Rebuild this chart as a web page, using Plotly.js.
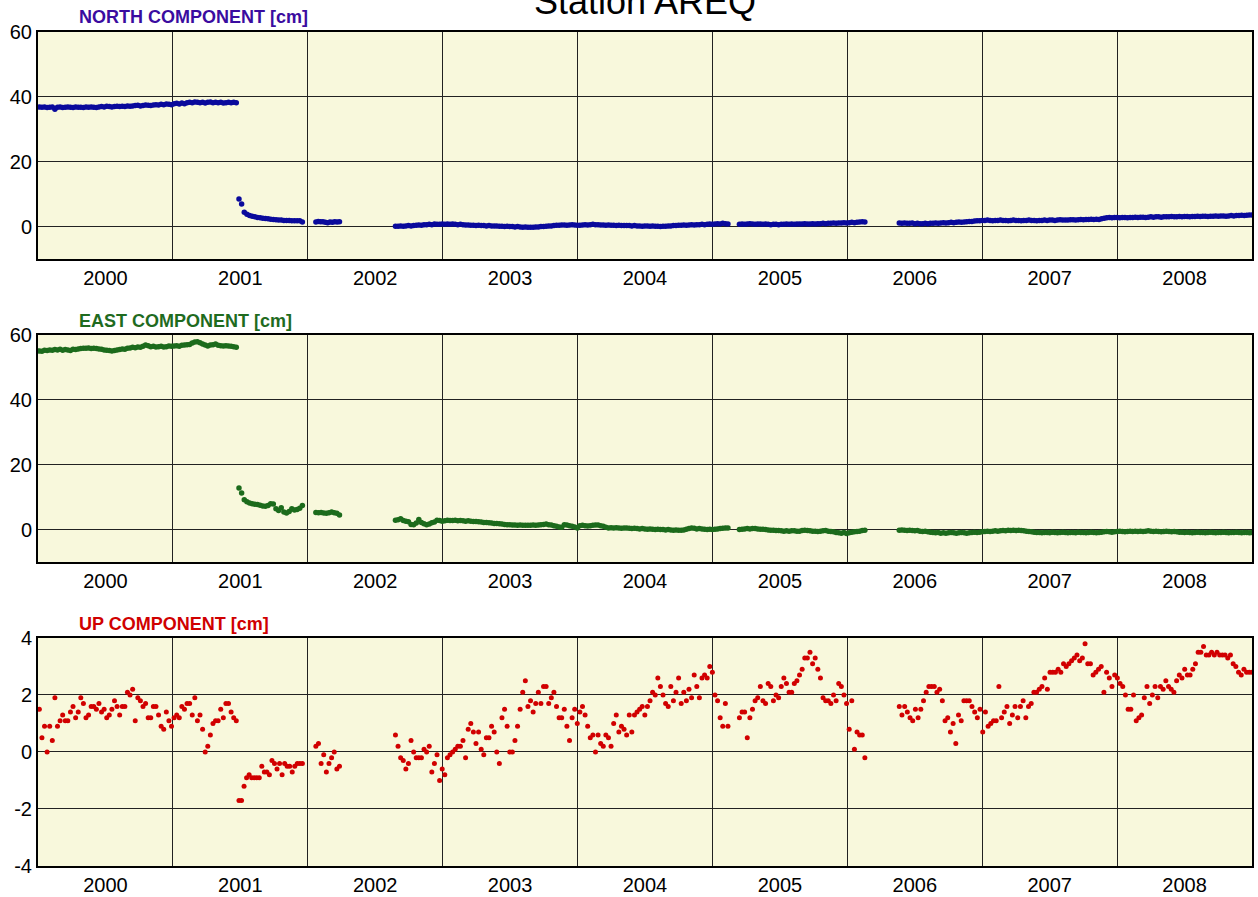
<!DOCTYPE html>
<html>
<head>
<meta charset="utf-8">
<script src="https://cdn.plot.ly/plotly-3.0.1.min.js"></script>
<style>html,body{margin:0;padding:0;background:#fff;}#chart{width:1258px;height:897px;}</style>
</head>
<body>
<div id="chart"></div>
<script>
// ---- DATA ----
const stationName = "Station AREQ";
const yearLabels = ["2000","2001","2002","2003","2004","2005","2006","2007","2008"];
const yearCenters = [2000.5,2001.5,2002.5,2003.5,2004.5,2005.5,2006.5,2007.5,2008.5];
const yearBoundaries = [2001,2002,2003,2004,2005,2006,2007,2008];
const neTickVals = [0,20,40,60];
const neTickText = ["0","20","40","60"];
const upTickVals = [-4,-2,0,2,4];
const upTickText = ["-4","-2","0","2","4"];

// data segments (decimal year start / end of weekly solutions)
const segStart = [2000.01, 2001.49, 2002.06, 2002.65, 2005.20, 2006.385];
const segEnd   = [2001.47, 2001.96, 2002.235, 2005.115, 2006.13, 2009.0];

// NORTH component [cm], one array per segment
const northA = [36.9,36.8,36.9,36.7,36.8,36.9,36.2,36.8,36.9,36.7,36.8,36.9,36.8,36.7,36.9,36.8,36.8,36.7,36.9,36.8,36.9,36.8,36.7,36.9,
37.0,36.9,37.1,37.0,36.9,37.0,37.1,37.0,37.1,37.0,37.2,37.1,37.2,37.3,37.4,37.2,37.3,37.5,37.4,37.3,37.5,
37.6,37.5,37.7,37.6,37.8,37.7,37.6,37.9,38.0,37.8,38.1,37.9,38.2,
38.3,38.2,38.4,38.3,38.2,38.3,38.1,38.3,38.4,38.2,38.3,38.2,38.3,38.1,38.2,38.3,38.2,38.3,38.2];
const northB = [8.5,7.0,4.4,3.8,3.4,3.2,3.0,2.8,2.7,2.6,2.5,2.4,2.3,2.2,2.1,2.0,2.0,1.9,1.9,1.9,1.8,1.8,1.8,1.8,1.4];
const northC = [1.4,1.6,1.5,1.5,1.3,1.2,1.4,1.3,1.5,1.4,1.5];
const northD = [0.1,0.1,0.2,0.1,0.2,0.3,0.2, 0.3,0.4,0.5,0.4,0.6,0.6, 0.7,0.6,0.8,0.7,0.7,0.8,0.7, 0.8,0.7,0.8,0.7,0.6,0.7,
0.6,0.5,0.5,0.4,0.4,0.3,0.4, 0.3,0.3,0.2,0.3,0.2,0.2, 0.2,0.1,0.1,0.0,0.1,0.0, 0.0,-0.1,0.0,-0.1,-0.2,-0.1,-0.2,-0.2,
-0.2,-0.1,-0.1,0.0,0.0, 0.1,0.2,0.2,0.3,0.4,0.4,0.5, 0.5,0.4,0.5,0.6,0.5,0.4, 0.4,0.5,0.6,0.5,0.6,0.7,0.6,
0.6,0.5,0.5,0.4,0.5,0.4, 0.4,0.3,0.4,0.3,0.3,0.3, 0.3,0.2,0.3,0.2,0.2,0.1,0.2, 0.2,0.1,0.2,0.1,0.1,0.0,
0.1,0.1,0.2,0.2,0.3,0.3,0.4, 0.4,0.5,0.4,0.5,0.6,0.5, 0.6,0.6,0.7,0.6,0.7,0.8,0.7, 0.8,0.9,0.8,1.0,0.9,0.8];
const northE = [0.7,0.8,0.7,0.8,0.9,0.8,0.7,0.8,0.8,0.7,0.8,0.7,0.6,0.7,0.7,0.6,0.7,0.7,0.8,0.7,0.8,0.7,0.8,0.8,0.8,0.9,0.8,0.8,0.9,0.8,
0.9,0.9,1.0,0.9,1.0,1.0,1.1,1.0,1.1,1.1,1.2,1.1,1.2,1.3,1.2,1.3,1.4,1.5,1.4];
const northF = [1.1,1.0,1.1,1.0,1.0,1.1,0.9,1.0,0.9,0.9,1.0, 0.9,1.0,1.0,1.1,1.0,1.1,1.2,1.1,1.2,1.3,1.2,1.3,1.4,1.3,1.4,
1.5,1.6,1.6,1.7,1.8,1.8, 1.9,1.9,2.0,1.9,1.8,1.9,1.9,2.0,1.9,1.9,1.8,1.9,2.0,1.9,1.9,1.8,1.9,1.9,2.0,1.9,
1.9,1.8,1.9,1.9,2.0,1.9,2.0,2.0,1.9,2.0,2.1,2.0,2.0, 2.0,2.1,2.1,2.0,2.1,2.2,2.1,2.2,2.2,2.3,2.2,2.3,
2.2,2.4,2.6,2.7,2.8,2.7,2.8,2.8,2.7,2.8,2.8,2.7,2.8, 2.8,2.9,2.8,2.9,2.9,2.8,2.9,3.0,2.9,3.0,3.0,2.9,3.0,
3.0,3.0,3.1,3.0,3.0,3.1,3.0,3.1,3.1,3.0,3.1,3.1,3.2, 3.1,3.2,3.2,3.1,3.2,3.2,3.3,3.2,3.3,3.3,3.2,3.3,3.4,
3.3,3.4,3.4,3.5,3.4,3.5,3.6,3.6];

// EAST component [cm]
const eastA = [55.1,55.0,55.3,55.2,55.4,55.3,55.5,55.4,55.6,55.3,55.5, 55.4,55.2,55.6,55.5,55.7,55.8,55.9, 55.9,56.0,55.8,55.9,55.8,55.7,
55.6,55.4,55.3,55.2,55.1,55.2,55.4, 55.5,55.7,55.6,55.9,56.0,56.2, 56.1,56.3,56.2,56.5, 56.9,56.7,56.4,56.5,56.3,
56.4,56.5,56.3,56.4,56.6,56.5, 56.6,56.7,56.5,56.8,56.9,57.0, 57.1,57.5,57.8,57.9,57.6,57.2,56.9,
56.6,56.9,57.0,57.2,56.8,56.7, 56.6,56.7,56.6,56.5,56.4,56.2];
const eastB = [12.8,11.3,9.2,8.6,8.2,8.0,7.8,7.7,7.5,7.3,7.2,7.4,8.0,7.9,6.4,5.9,6.7,5.4,5.1,5.6,6.4,6.0,6.2,6.6,7.4];
const eastC = [5.3,5.2,5.3,5.1,5.0,5.2,5.4,5.2,5.0,4.5];
const eastD = [2.9,3.0,3.3,2.8,2.6, 2.4,1.6,1.5,2.0, 3.1,2.2,1.8, 1.5,1.7,2.1,2.3, 2.9,2.8,2.6,2.7,2.9,2.8,
2.8,2.9,2.7,2.8,2.7,2.6,2.7,2.6,2.5, 2.5,2.4,2.3,2.2,2.2,2.1,2.0,1.9,1.9, 1.8,1.7,1.6,1.5,1.5,1.4,1.4,1.3,1.4,1.3,1.3,
1.3,1.3,1.4,1.3,1.4,1.5,1.6, 1.7,1.5,1.4,1.2,1.0,0.8, 0.7,1.5,1.4,1.2,1.0,0.8, 0.5,1.2,1.3,1.2,1.1,1.2,1.3,1.4,
1.4,1.2,1.0,0.7,0.5,0.6,0.5,0.6,0.5,0.4,0.5, 0.5,0.4,0.3,0.4,0.3,0.2,0.3,0.2,0.1,0.2,0.1,0.0,0.1,
0.0,0.0,-0.1,0.0,-0.1,-0.2,-0.1,-0.2,-0.2,-0.1,0.1,0.3, 0.5,0.4,0.2,0.3,0.2,0.1,0.0,0.1, 0.0,0.1,0.2,0.3,0.4,0.5,0.5];
const eastE = [0.0,0.1,0.2,0.3,0.2,0.3,0.3,0.2,0.1,0.1,0.0,-0.1,-0.2,-0.2,-0.3,-0.3,-0.4,-0.5,-0.4,-0.5,-0.4,-0.4,-0.5,-0.5,
-0.3,-0.2,-0.3,-0.4,-0.5,-0.5,-0.6,-0.5,-0.4,-0.3,-0.5,-0.6,-0.7,-0.9,-1.0,-1.1,-0.9,-1.2,-1.0,-0.8,-0.7,-0.6,-0.5,-0.3,-0.2];
const eastF = [-0.2,-0.1,-0.2,-0.3,-0.2,-0.3,-0.4,-0.3,-0.5,-0.6,-0.5,-0.7,-0.8,
-0.9,-1.0,-0.9,-1.1,-1.0,-1.1,-1.0,-0.9,-1.0,-1.1,-1.0,-0.9,-1.0,-1.1,-1.0,-0.9,-0.8,-0.9,-0.8,-0.7,-0.6,
-0.5,-0.6,-0.5,-0.4,-0.5,-0.4,-0.3,-0.4,-0.2,-0.3,-0.2,-0.3,-0.2,-0.3,-0.4,-0.5,-0.6,-0.7,-0.8,-0.9,
-0.9,-1.0,-0.9,-0.9,-1.0,-0.8,-0.9,-1.0,-0.9,-0.8,-0.9,-1.0,-0.9,-0.9,-1.0,-0.8,-0.9,-0.9,-1.0,-0.9,-0.8,-0.9,-1.0,-0.9,-0.8,
-0.7,-0.6,-0.7,-0.8,-0.7,-0.6,-0.5,-0.6,-0.7,-0.6,-0.5,-0.6,-0.5,-0.6,
-0.5,-0.6,-0.5,-0.4,-0.5,-0.6,-0.5,-0.6,-0.7,-0.6,-0.5,-0.6,-0.7,-0.6,-0.7,-0.8,-0.8,
-0.9,-0.8,-0.9,-1.0,-0.9,-0.8,-0.9,-0.9,-1.0,-0.9,-0.8,-0.9,-1.0,-0.9,-0.9,-0.8,-0.9,-1.0,-0.9,-0.9,-0.8,-0.9,-1.0,-0.9,-0.9,-1.0,-0.9];

// UP component [cm]
const upA = [1.5,0.5,0.9,0.0,0.9,0.4,1.9,0.9,1.1,1.3,1.1,1.1,1.4,1.6,1.2,1.4,1.9,1.7,1.2,1.3,1.6,1.6,1.5,1.7,1.4,
1.5,1.2,1.3,1.5,1.8,1.6,1.3,1.6,1.6,2.1,2.0,2.2,1.1,1.9,1.8,1.6,1.7,1.2,1.2,1.6,1.6,1.3,0.9,0.8,1.4,
1.1,0.9,1.2,1.3,1.2,1.6,1.5,1.7,1.7,1.3,1.9,1.1,1.3,0.8,0.0,0.2,0.6,1.0,1.1,1.1,1.5,1.2,1.7,1.7,1.4,1.2,1.1];
const upB = [-1.7,-1.7,-1.2,-0.9,-0.8,-0.9,-0.9,-0.9,-0.9,-0.5,-0.7,-0.7,-0.8,-0.3,-0.4,-0.6,-0.4,-0.8,-0.4,-0.5,-0.5,-0.7,-0.5,-0.4,-0.4,-0.4];
const upC = [0.2,0.3,-0.4,-0.1,-0.7,-0.4,-0.2,0.0,-0.6,-0.5];
const upD = [0.6,0.2,-0.2,-0.3,-0.6,-0.4,0.4,0.0,-0.2,-0.2, -0.2,0.1,0.0,0.2,-0.7,-0.4,-0.1,-1.0,-0.6,-0.8,
-0.2,-0.1,0.0,0.1,0.2,0.2,0.4,-0.2,0.8,1.0, 0.7,0.3,0.7,0.1,-0.1,0.5,0.5,0.9,0.7,0.0,
-0.4,1.2,1.5,0.9,0.0,0.0,0.4,0.9,1.5,2.1, 2.5,1.6,1.8,1.4,1.7,2.1,1.7,2.3,2.3,1.7,
1.9,2.1,1.6,1.2,1.2,1.5,0.9,0.4,1.2,1.5, 1.0,1.4,1.6,1.3,0.9,0.5,0.6,0.0,0.6,0.3,
0.2,0.6,0.5,0.2,1.0,1.3,0.7,0.9,0.8,0.6, 1.3,0.7,1.3,1.4,1.5,1.6,1.3,1.6,1.8,2.1,
2.0,2.6,2.3,2.0,1.7,1.6,2.3,1.8,2.1,2.6, 1.7,2.1,1.8,2.2,1.9,2.7,2.3,1.9,2.6,2.7,
2.6,3.0,2.8,2.0,1.8,1.2,0.9,1.7,0.9];
const upE = [1.2,1.4,1.4,0.5,1.2,1.5,1.8,1.9,2.3,1.8,1.7,2.4,2.3,1.8,2.0,1.9,2.3,2.6,2.4,2.1,2.1,2.4,2.5,2.7,
2.9,3.3,3.3,3.5,3.1,3.3,2.9,2.6,1.9,1.8,1.8,1.7,2.0,1.8,2.4,2.3,2.0,1.7,0.8,1.8,0.1,0.7,0.6,0.6,-0.2];
const upF = [1.6,1.3,1.6,1.4,1.2,1.1,1.5,1.2,1.5,1.8,2.1,2.3,2.3,2.3,2.1,2.2,1.8,1.1,1.2,0.7,1.0,0.3,1.3,1.1,1.8,
1.8,1.8,1.6,1.4,1.2,1.5,0.7,1.4,0.9,1.0,1.1,1.1,2.3,1.2,1.4,1.6,1.0,1.3,1.6,1.2,1.6,1.8,1.2,1.6,1.7,
2.1,2.1,2.2,2.3,2.6,2.2,2.8,2.8,2.8,2.9,2.8,3.1,3.0,3.1,3.2,3.3,3.4,3.2,3.3,3.8,3.1,3.1,2.7,2.8,2.9,
3.0,2.1,2.8,2.6,2.3,2.7,2.6,2.4,2.3,2.0,1.5,1.5,2.0,1.1,1.2,1.3,1.9,2.3,1.7,2.0,2.3,1.9,2.3,2.2,2.5,
2.3,2.2,2.1,2.5,2.7,2.6,2.9,2.7,2.7,2.9,3.1,3.5,3.5,3.7,3.4,3.4,3.5,3.4,3.5,3.4,3.4,3.4,3.3,3.4,3.1,
3.0,2.8,2.7,2.9,2.8,2.8,2.8];

// ---- BUILD ----
function build(segs){
  const xs=[], ys=[];
  segs.forEach((vals,k)=>{
    const n=vals.length;
    for(let i=0;i<n;i++){
      xs.push(segStart[k]+(segEnd[k]-segStart[k])*(n>1?i/(n-1):0));
      ys.push(vals[i]);
    }
  });
  return {x:xs,y:ys};
}
const N = build([northA,northB,northC,northD,northE,northF]);
const E = build([eastA,eastB,eastC,eastD,eastE,eastF]);
const U = build([upA,upB,upC,upD,upE,upF]);

const FONT = 'Liberation Sans, Arial, Helvetica, sans-serif';
const traces = [
  {x:N.x,y:N.y,type:'scatter',mode:'markers',xaxis:'x',yaxis:'y',marker:{color:'#0A0A9C',size:5.5},hoverinfo:'x+y'},
  {x:E.x,y:E.y,type:'scatter',mode:'markers',xaxis:'x2',yaxis:'y2',marker:{color:'#1C6B1C',size:5.5},hoverinfo:'x+y'},
  {x:U.x,y:U.y,type:'scatter',mode:'markers',xaxis:'x3',yaxis:'y3',marker:{color:'#D10000',size:5},hoverinfo:'x+y'}
];

function xax(anchor){
  return {anchor:anchor,range:[2000,2009],tickmode:'array',tickvals:yearCenters,ticktext:yearLabels,
    ticks:'',showgrid:false,zeroline:false,showline:true,mirror:true,linewidth:2,linecolor:'#000',
    tickfont:{family:FONT,size:20,color:'#000'},ticklabelstandoff:0,
    minor:{tickmode:'array',tickvals:yearBoundaries,showgrid:true,gridcolor:'#222',gridwidth:1,ticks:''}};
}
function yax(anchor,domain,range,vals,text){
  return {anchor:anchor,domain:domain,range:range,tickmode:'array',tickvals:vals,ticktext:text,ticks:'',
    showgrid:true,gridcolor:'#222',gridwidth:1,zeroline:false,showline:true,mirror:true,linewidth:2,linecolor:'#000',
    tickfont:{family:FONT,size:20,color:'#000'},ticklabelstandoff:0};
}

const layout = {
  width:1258,height:897,
  margin:{l:38,r:6,t:32,b:31},
  paper_bgcolor:'#FFFFFF',plot_bgcolor:'#F8F8DC',
  showlegend:false,
  font:{family:FONT,color:'#000'},
  xaxis:xax('y'),xaxis2:xax('y2'),xaxis3:xax('y3'),
  yaxis:yax('x',[0.7278,1],[-10,60],neTickVals,neTickText),
  yaxis2:yax('x2',[0.3645,0.6367],[-10,60],neTickVals,neTickText),
  yaxis3:yax('x3',[0,0.2734],[-4,4],upTickVals,upTickText),
  annotations:[
    {text:stationName,xref:'paper',yref:'paper',x:0.5,y:1.036,xanchor:'center',yanchor:'middle',showarrow:false,
     font:{family:FONT,size:36,color:'#000'}},
    {text:'<b>NORTH COMPONENT [cm]</b>',xref:'paper',yref:'paper',x:0.032,y:1.018,xanchor:'left',yanchor:'middle',showarrow:false,
     font:{family:FONT,size:18,color:'#3A0CA0'}},
    {text:'<b>EAST COMPONENT [cm]</b>',xref:'paper',yref:'paper',x:0.032,y:0.6538,xanchor:'left',yanchor:'middle',showarrow:false,
     font:{family:FONT,size:18,color:'#1F6B1F'}},
    {text:'<b>UP COMPONENT [cm]</b>',xref:'paper',yref:'paper',x:0.032,y:0.2902,xanchor:'left',yanchor:'middle',showarrow:false,
     font:{family:FONT,size:18,color:'#D00000'}}
  ]
};
Plotly.newPlot('chart',traces,layout,{displayModeBar:false,staticPlot:true});
</script>
</body>
</html>
